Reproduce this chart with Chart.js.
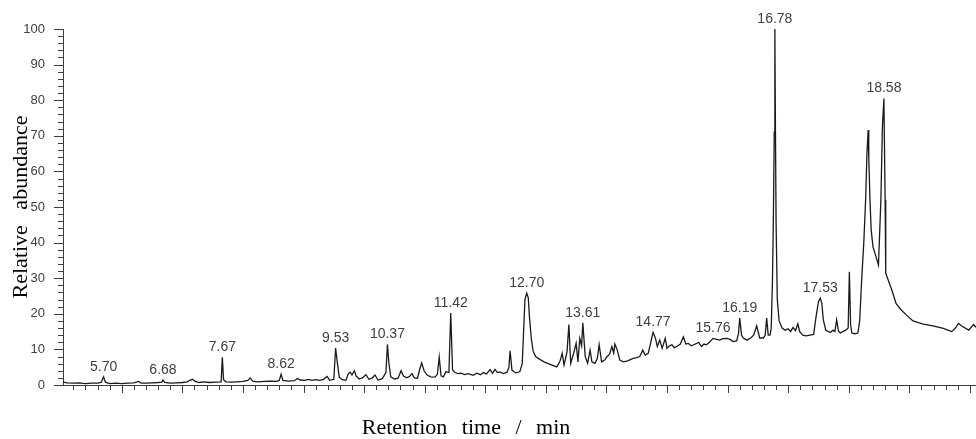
<!DOCTYPE html>
<html>
<head>
<meta charset="utf-8">
<script src="https://cdn.jsdelivr.net/npm/chart.js"></script>
<style>
  body { margin: 0; background: #fff; }
  #wrap { width: 976px; height: 439px; }
</style>
</head>
<body>
<div id="wrap"><canvas id="chrom" width="976" height="439"></canvas></div>
<script>
// retention time (min) and relative abundance
const retentionTimes = [
  5.03, 5.10, 5.20, 5.30, 5.40, 5.50, 5.60, 5.66, 5.70, 5.73, 5.80, 5.90, 6.00, 6.10, 6.20, 6.28, 6.32, 6.40, 6.50, 6.60,
  6.66, 6.68, 6.71, 6.80, 6.90, 7.00, 7.08, 7.13, 7.17, 7.21, 7.28, 7.35, 7.45, 7.55, 7.64, 7.66, 7.68, 7.72, 7.80, 7.90,
  8.00, 8.08, 8.12, 8.16, 8.25, 8.35, 8.45, 8.55, 8.60, 8.63, 8.66, 8.75, 8.85, 8.90, 8.95, 9.02, 9.08, 9.14, 9.20, 9.27,
  9.33, 9.39, 9.43, 9.50, 9.53, 9.56, 9.59, 9.64, 9.70, 9.74, 9.77, 9.80, 9.84, 9.87, 9.92, 9.97, 10.03, 10.08, 10.13, 10.18,
  10.23, 10.30, 10.36, 10.385, 10.41, 10.44, 10.50, 10.56, 10.61, 10.65, 10.70, 10.75, 10.79, 10.83, 10.88, 10.92, 10.95, 10.99, 11.04, 11.10,
  11.17, 11.21, 11.24, 11.27, 11.31, 11.35, 11.40, 11.43, 11.46, 11.50, 11.55, 11.60, 11.66, 11.72, 11.80, 11.86, 11.92, 11.97, 12.02, 12.08,
  12.12, 12.16, 12.20, 12.24, 12.30, 12.36, 12.39, 12.41, 12.44, 12.50, 12.57, 12.61, 12.63, 12.655, 12.685, 12.71, 12.73, 12.76, 12.79, 12.83,
  12.90, 12.97, 13.04, 13.10, 13.18, 13.23, 13.27, 13.30, 13.35, 13.38, 13.41, 13.46, 13.50, 13.53, 13.56, 13.59, 13.61, 13.65, 13.69, 13.73,
  13.76, 13.81, 13.85, 13.88, 13.92, 13.97, 14.01, 14.05, 14.09, 14.12, 14.14, 14.18, 14.22, 14.28, 14.35, 14.44, 14.50, 14.55, 14.60, 14.64,
  14.69, 14.74, 14.77, 14.81, 14.84, 14.88, 14.92, 14.97, 15.00, 15.04, 15.08, 15.12, 15.16, 15.22, 15.27, 15.31, 15.35, 15.40, 15.44, 15.48,
  15.52, 15.57, 15.61, 15.65, 15.70, 15.76, 15.82, 15.87, 15.92, 15.99, 16.04, 16.09, 16.15, 16.18, 16.20, 16.23, 16.26, 16.32, 16.38, 16.43,
  16.48, 16.53, 16.59, 16.62, 16.645, 16.67, 16.70, 16.72, 16.74, 16.755, 16.77, 16.78, 16.79, 16.80, 16.82, 16.85, 16.90, 16.95, 17.00, 17.04,
  17.08, 17.12, 17.16, 17.19, 17.24, 17.30, 17.36, 17.42, 17.46, 17.50, 17.53, 17.555, 17.58, 17.62, 17.66, 17.70, 17.74, 17.77, 17.80, 17.83,
  17.86, 17.90, 17.95, 17.99, 18.01, 18.03, 18.05, 18.10, 18.15, 18.18, 18.21, 18.25, 18.28, 18.30, 18.32, 18.33, 18.35, 18.37, 18.40, 18.45,
  18.49, 18.53, 18.555, 18.58, 18.60, 18.61, 18.67, 18.72, 18.78, 18.87, 18.95, 19.06, 19.15, 19.23, 19.39, 19.56, 19.70, 19.76, 19.81, 19.87,
  19.98, 20.06, 20.10
];
const abundance = [
  0.8, 0.6, 0.5, 0.6, 0.4, 0.5, 0.5, 0.7, 2.3, 0.8, 0.4, 0.5, 0.4, 0.5, 0.6, 1.0, 0.5, 0.5, 0.6, 0.7,
  0.8, 1.4, 0.7, 0.5, 0.6, 0.7, 0.9, 1.4, 1.6, 1.0, 0.7, 0.9, 0.7, 0.8, 0.9, 7.8, 1.5, 0.9, 0.8, 0.9,
  1.0, 1.3, 2.0, 1.1, 0.9, 1.0, 1.1, 1.0, 1.3, 3.0, 1.3, 1.1, 1.2, 1.8, 1.4, 1.3, 1.6, 1.3, 1.5, 1.3,
  1.6, 2.4, 1.3, 1.6, 10.4, 6.0, 2.2, 1.5, 1.3, 3.2, 3.6, 2.8, 4.0, 2.5, 1.7, 2.0, 2.9, 1.6, 1.9, 2.8,
  1.4, 1.8, 3.5, 11.4, 6.0, 2.3, 1.7, 1.9, 4.0, 2.5, 2.0, 2.4, 3.2, 2.0, 1.9, 4.5, 6.2, 4.0, 2.8, 2.3,
  2.2, 3.0, 7.8, 2.6, 2.3, 3.7, 3.5, 20.2, 4.2, 3.5, 3.2, 3.3, 2.9, 3.2, 2.7, 3.3, 2.9, 3.5, 3.1, 4.3,
  3.3, 4.4, 3.5, 3.7, 3.2, 3.6, 5.0, 9.6, 4.2, 3.4, 3.7, 6.0, 14.0, 24.0, 25.8, 24.5, 19.0, 13.0, 9.5, 8.0,
  7.2, 6.5, 6.0, 5.6, 5.1, 6.5, 8.9, 5.6, 9.4, 17.0, 6.1, 9.0, 11.7, 6.5, 13.1, 11.0, 17.5, 8.0, 6.1, 9.8,
  6.5, 6.1, 7.5, 11.3, 6.5, 7.0, 8.0, 8.6, 10.8, 9.0, 11.5, 9.8, 7.0, 6.5, 6.8, 7.5, 7.7, 8.0, 9.8, 8.4,
  8.9, 12.6, 14.8, 13.1, 10.8, 12.6, 10.3, 13.1, 10.3, 11.0, 11.3, 10.5, 10.8, 11.5, 13.5, 11.5, 11.7, 11.0, 11.3, 11.6,
  12.0, 10.8, 11.5, 11.3, 12.0, 13.1, 12.8, 12.6, 13.0, 13.1, 12.8, 12.2, 12.4, 14.5, 18.8, 14.0, 13.2, 12.6, 13.2, 14.0,
  16.6, 13.2, 13.2, 14.0, 18.8, 14.0, 14.0, 16.0, 29.0, 46.0, 71.0, 100.0, 71.0, 46.0, 24.0, 18.0, 16.0, 15.4, 15.8, 15.0,
  16.2, 15.3, 17.2, 15.0, 14.0, 13.8, 14.0, 14.2, 19.2, 23.4, 24.4, 23.0, 18.3, 15.4, 15.0, 14.8, 15.4, 15.0, 18.3, 15.2,
  14.6, 15.0, 15.4, 16.0, 31.8, 17.0, 14.6, 14.4, 14.6, 18.0, 28.6, 40.7, 52.9, 65.0, 71.6, 64.0, 52.0, 43.5, 38.8, 36.0,
  33.7, 52.0, 72.5, 80.5, 52.0, 31.4, 28.6, 26.2, 22.9, 21.0, 19.7, 18.0, 17.5, 17.1, 16.6, 15.9, 15.0, 16.0, 17.3, 16.5,
  15.4, 17.0, 16.2
];

// annotated peaks
const peakLabels = ['5.70', '6.68', '7.67', '8.62', '9.53', '10.37', '11.42', '12.70', '13.61', '14.77', '15.76', '16.19', '16.78', '17.53', '18.58'];
const peakTimes = [5.70, 6.68, 7.66, 8.63, 9.53, 10.385, 11.43, 12.685, 13.61, 14.77, 15.76, 16.20, 16.78, 17.53, 18.58];

const xMin = 5.03, xMax = 20.10;
const yMin = 0, yMax = 100;

const axisColor = '#3c3c3c';
const labelColor = '#404040';

// tick marks, axis titles and peak labels
const chromPlugin = {
  id: 'chromDecor',
  afterDraw(chart) {
    const ctx = chart.ctx;
    const xs = chart.scales.x, ys = chart.scales.y;
    const area = chart.chartArea;
    ctx.save();
    ctx.strokeStyle = axisColor;
    ctx.lineWidth = 1;

    // x ticks every 0.2 min, long ones on whole minutes
    for (let k = Math.ceil(xs.min * 5); k <= Math.floor(xs.max * 5); k++) {
      const px = Math.round(xs.getPixelForValue(k / 5)) + 0.5;
      const len = k % 5 === 0 ? 8 : 5;
      ctx.beginPath();
      ctx.moveTo(px, area.bottom);
      ctx.lineTo(px, area.bottom + len);
      ctx.stroke();
    }
    // y ticks every 2, long ones on tens
    for (let v = yMin; v <= yMax; v += 2) {
      const py = Math.round(ys.getPixelForValue(v)) + 0.5;
      const len = v % 10 === 0 ? 9 : 5;
      ctx.beginPath();
      ctx.moveTo(area.left - len, py);
      ctx.lineTo(area.left, py);
      ctx.stroke();
    }

    // peak labels
    ctx.fillStyle = labelColor;
    ctx.font = '14px "Liberation Sans", Arial, sans-serif';
    ctx.textAlign = 'center';
    ctx.textBaseline = 'alphabetic';
    peakLabels.forEach((txt, i) => {
      let top = 0;
      retentionTimes.forEach((t, j) => {
        if (Math.abs(t - peakTimes[i]) <= 0.03) top = Math.max(top, abundance[j]);
      });
      ctx.fillText(txt, xs.getPixelForValue(peakTimes[i]), ys.getPixelForValue(top) - 6);
    });

    // axis titles
    ctx.fillStyle = '#000';
    ctx.font = '22px "Liberation Serif", "Times New Roman", serif';
    ctx.wordSpacing = '9px';
    ctx.fillText('Retention time / min', 466, 434);
    ctx.translate(27, (area.top + area.bottom) / 2);
    ctx.rotate(-Math.PI / 2);
    ctx.wordSpacing = '10px';
    ctx.fillText('Relative abundance', 0, 0);
    ctx.restore();
  }
};

const points = retentionTimes.map((t, i) => ({ x: t, y: abundance[i] }));

new Chart(document.getElementById('chrom'), {
  type: 'line',
  data: {
    datasets: [{
      data: points,
      borderColor: '#1a1a1a',
      borderWidth: 1.3,
      pointRadius: 0,
      tension: 0,
      fill: false
    }]
  },
  options: {
    responsive: false,
    animation: false,
    layout: { padding: { top: 29, right: 0, left: 0, bottom: 0 } },
    plugins: {
      legend: { display: false },
      tooltip: { enabled: false }
    },
    scales: {
      x: {
        type: 'linear',
        min: xMin,
        max: xMax,
        grid: { display: false },
        border: { display: true, color: axisColor, width: 1 },
        ticks: { display: false },
        afterFit: (scale) => { scale.height = 54; }
      },
      y: {
        min: yMin,
        max: yMax,
        grid: { display: false },
        border: { display: true, color: axisColor, width: 1 },
        ticks: {
          stepSize: 10,
          padding: 10,
          color: labelColor,
          font: { family: '"Liberation Sans", Arial, sans-serif', size: 13 }
        },
        afterFit: (scale) => { scale.width = 63; }
      }
    }
  },
  plugins: [chromPlugin]
});
</script>
</body>
</html>
